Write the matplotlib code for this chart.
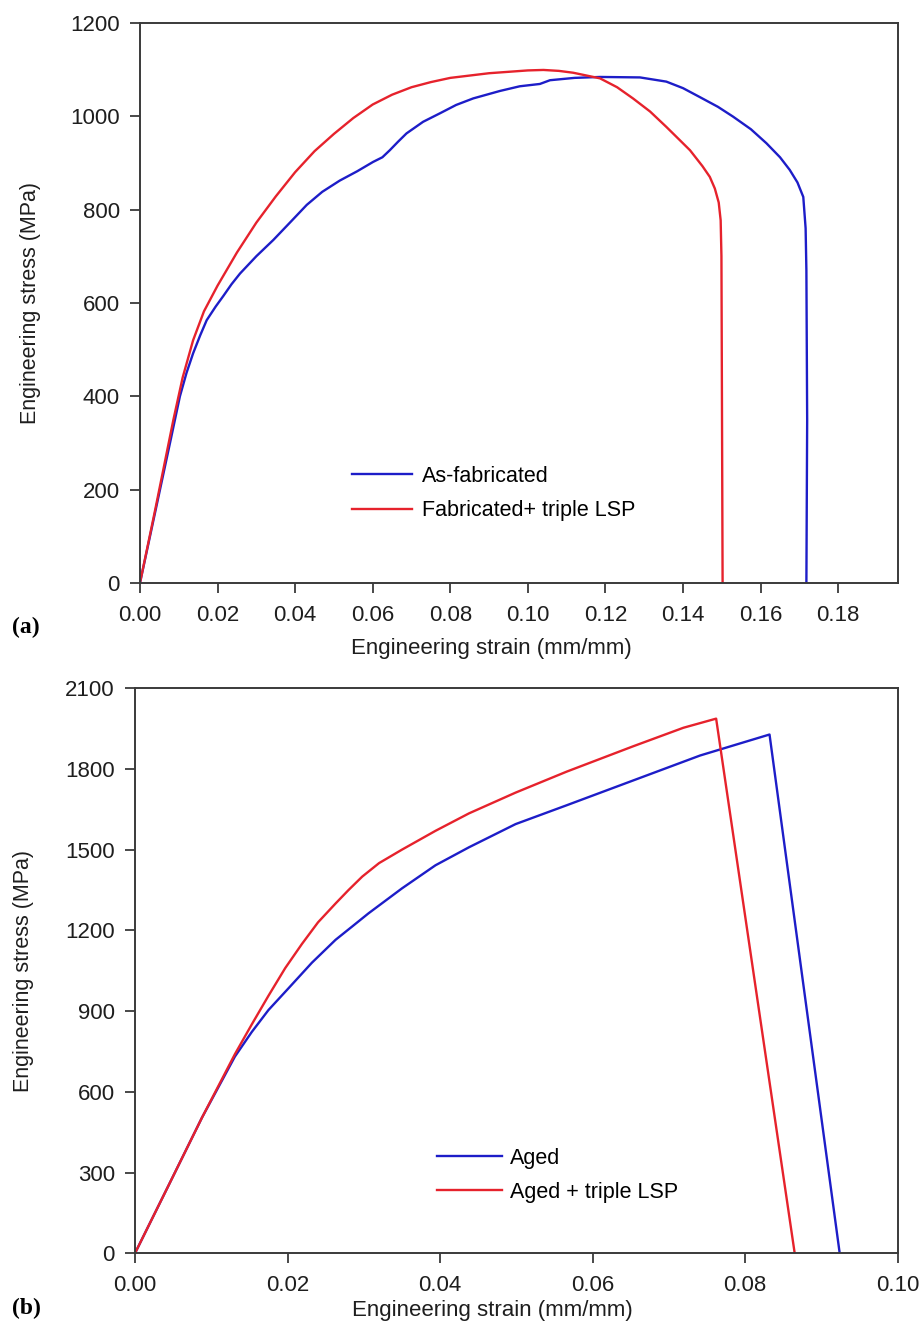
import matplotlib
matplotlib.use("Agg")
import matplotlib.pyplot as plt
from matplotlib.ticker import FormatStrFormatter

plt.rcParams['font.family'] = ['Liberation Sans', 'DejaVu Sans']

# ---------------- data: panel (a) ----------------
strain_asfab = [0, 0.004, 0.008, 0.0103, 0.0120, 0.0137, 0.0155, 0.0172, 0.0195, 0.0215,
                0.0236, 0.0258, 0.0300, 0.0344, 0.0390, 0.0430, 0.0470, 0.0515, 0.0560,
                0.0601, 0.0625, 0.0644, 0.0665, 0.0687, 0.0730, 0.0773, 0.0815, 0.0859,
                0.0928, 0.0979, 0.1031, 0.1057, 0.1120, 0.1186, 0.1289, 0.1357, 0.1400,
                0.1443, 0.1490, 0.1529, 0.1575, 0.1615, 0.1650, 0.1675, 0.1695, 0.1710,
                0.1716, 0.1718, 0.1720, 0.1718]
stress_asfab = [0, 155, 310, 400, 450, 492, 530, 563, 592, 615,
                640, 663, 700, 735, 775, 810, 838, 862, 882,
                902, 912, 927, 945, 963, 988, 1006, 1024, 1038,
                1054, 1064, 1069, 1077, 1082, 1084, 1083, 1074, 1060,
                1041, 1020, 999, 972, 942, 912, 885, 858, 827,
                760, 670, 349, 0]

strain_lsp = [0, 0.004, 0.0086, 0.0110, 0.0137, 0.0165, 0.0200, 0.0250, 0.0300, 0.0350,
              0.0400, 0.0450, 0.0500, 0.0550, 0.0600, 0.0650, 0.0700, 0.0750, 0.0800,
              0.0900, 0.1000, 0.1040, 0.1080, 0.1117, 0.1186, 0.1230, 0.1271, 0.1315,
              0.1357, 0.1390, 0.1418, 0.1450, 0.1469, 0.1482, 0.1492, 0.1497, 0.1499,
              0.1502]
stress_lsp = [0, 160, 349, 440, 520, 582, 637, 708, 772, 828,
              880, 925, 962, 996, 1025, 1046, 1062, 1073, 1082,
              1092, 1098, 1099, 1097, 1093, 1081, 1062, 1038, 1010,
              977, 950, 927, 893, 870, 845, 815, 777, 700,
              0]

# ---------------- data: panel (b) ----------------
strain_aged = [0, 0.0044, 0.0088, 0.0131, 0.0153, 0.0175, 0.0201, 0.0232, 0.0263, 0.0285,
               0.0306, 0.0350, 0.0394, 0.0438, 0.0499, 0.0566, 0.0653, 0.0741, 0.0832,
               0.0924]
stress_aged = [0, 252, 505, 731, 822, 904, 984, 1080, 1165, 1215,
               1263, 1356, 1442, 1509, 1595, 1665, 1757, 1850, 1928,
               0]

strain_aged_lsp = [0, 0.0044, 0.0088, 0.0131, 0.0153, 0.0175, 0.0197, 0.0219, 0.0240,
                   0.0263, 0.0280, 0.0298, 0.0320, 0.0350, 0.0394, 0.0438, 0.0499,
                   0.0566, 0.0653, 0.0719, 0.0762, 0.0865]
stress_aged_lsp = [0, 252, 505, 740, 850, 957, 1060, 1150, 1230,
                   1300, 1350, 1400, 1450, 1500, 1570, 1635, 1712,
                   1790, 1884, 1953, 1987, 0]

xticks_a = [0.00, 0.02, 0.04, 0.06, 0.08, 0.10, 0.12, 0.14, 0.16, 0.18]
yticks_a = [0, 200, 400, 600, 800, 1000, 1200]
xticks_b = [0.00, 0.02, 0.04, 0.06, 0.08, 0.10]
yticks_b = [0, 300, 600, 900, 1200, 1500, 1800, 2100]

labels_a = ['As-fabricated', 'Fabricated+ triple LSP']
labels_b = ['Aged', 'Aged + triple LSP']

BLUE = '#1d1dc8'
RED = '#e6222c'
SPINE = '#3a3a3a'
TXT = '#1e1e1e'
FS = 15.5
FS_TICK = 16
FS_XL = 16

fig = plt.figure(figsize=(9.22, 13.33), dpi=100)
ax1 = fig.add_axes([0.1518, 0.5626, 0.8221, 0.4203])
ax2 = fig.add_axes([0.1464, 0.0598, 0.8272, 0.4239])


def style(ax):
    for s in ax.spines.values():
        s.set_color(SPINE)
        s.set_linewidth(1.4)
    ax.tick_params(direction='out', length=7.5, width=1.3, color=SPINE,
                   labelsize=FS_TICK, labelcolor=TXT, top=False, right=False)
    ax.tick_params(axis='x', pad=8)
    ax.tick_params(axis='y', pad=7)
    ax.xaxis.set_major_formatter(FormatStrFormatter('%.2f'))


# panel (a)
ax1.plot(strain_asfab, stress_asfab, color=BLUE, lw=1.7, label=labels_a[0])
ax1.plot(strain_lsp, stress_lsp, color=RED, lw=1.7, label=labels_a[1])
ax1.set_xlim(0, 0.1954)
ax1.set_ylim(0, 1200)
ax1.set_xticks(xticks_a)
ax1.set_yticks(yticks_a)
style(ax1)
ax1.set_xlabel('Engineering strain (mm/mm)', fontsize=FS_XL, color=TXT)
ax1.set_ylabel('Engineering stress (MPa)', fontsize=FS, color=TXT)
ax1.xaxis.set_label_coords(0.463, -0.098)
ax1.yaxis.set_label_coords(-0.131, 0.5)
ax1.legend(loc='center left', bbox_to_anchor=(0.2797, 0.160), frameon=False,
           fontsize=FS, handlelength=2.8, handletextpad=0.45, borderpad=0,
           borderaxespad=0, labelspacing=0.63)

# panel (b)
ax2.plot(strain_aged, stress_aged, color=BLUE, lw=1.7, label=labels_b[0])
ax2.plot(strain_aged_lsp, stress_aged_lsp, color=RED, lw=1.7, label=labels_b[1])
ax2.set_xlim(0, 0.10)
ax2.set_ylim(0, 2100)
ax2.set_xticks(xticks_b)
ax2.set_yticks(yticks_b)
style(ax2)
ax2.set_xlabel('Engineering strain (mm/mm)', fontsize=FS_XL, color=TXT)
ax2.set_ylabel('Engineering stress (MPa)', fontsize=FS, color=TXT)
ax2.xaxis.set_label_coords(0.469, -0.082)
ax2.yaxis.set_label_coords(-0.132, 0.5)
ax2.legend(loc='center left', bbox_to_anchor=(0.396, 0.1377), frameon=False,
           fontsize=FS, handlelength=3.0, handletextpad=0.4, borderpad=0,
           borderaxespad=0, labelspacing=0.6)

fig.text(12 / 922, 1 - 627 / 1333, '(a)', family='Liberation Serif', weight='bold',
         fontsize=17, va='center', ha='left', color='black')
fig.text(12 / 922, 1 - 1308 / 1333, '(b)', family='Liberation Serif', weight='bold',
         fontsize=17, va='center', ha='left', color='black')

fig.savefig('out.png', dpi=100)
